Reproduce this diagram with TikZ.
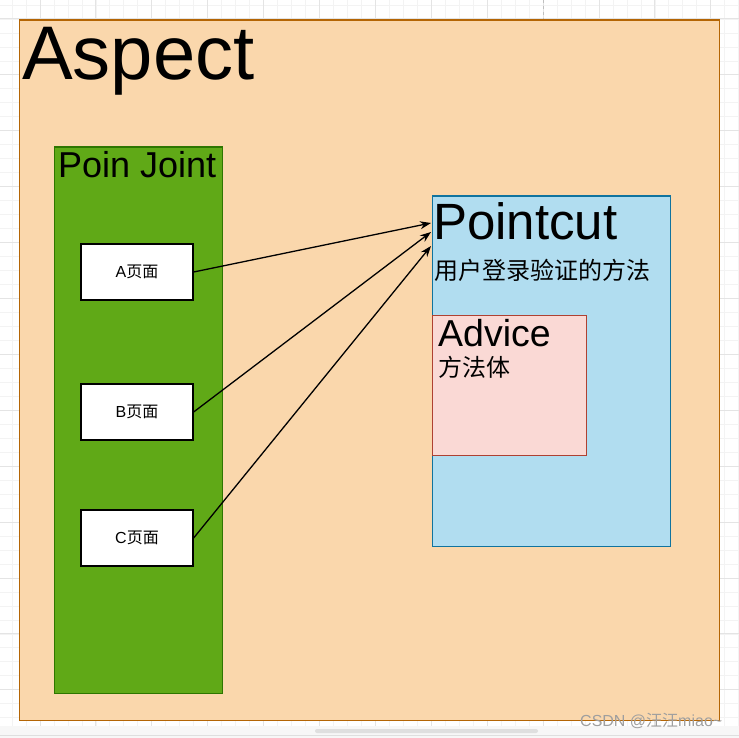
\documentclass[tikz,border=0pt]{standalone}
\usepackage{fontspec}
\setmainfont{Liberation Sans}
\newfontfamily\cjk{Noto Sans CJK SC}
\usetikzlibrary{arrows.meta,positioning}
\definecolor{aspectFill}{HTML}{FAD7AC}
\definecolor{aspectLine}{HTML}{B46504}
\definecolor{jointFill}{HTML}{60A917}
\definecolor{jointLine}{HTML}{2D7600}
\definecolor{cutFill}{HTML}{B1DDF0}
\definecolor{cutLine}{HTML}{10739E}
\definecolor{adviceFill}{HTML}{FAD9D5}
\definecolor{adviceLine}{HTML}{AE4132}
\definecolor{gridMajor}{HTML}{E4E4E4}
\definecolor{gridMinor}{HTML}{F3F3F3}

\begin{document}
\begin{tikzpicture}[
    x=1pt, y=-1pt,
    frame/.style={draw, line width=1.6pt, inner sep=0pt, anchor=north west},
    page/.style={draw, fill=white, line width=1.3pt, minimum width=112pt, minimum height=56pt, inner sep=0pt, font=\fontsize{16}{16}\selectfont},
    title/.style={anchor=base west, inner sep=0pt},
    arrow/.style={-{Stealth[length=11pt,width=8pt]}, line width=1.3pt}
  ]
    \useasboundingbox (0,0) rectangle (739,738);
    \fill[white] (0,0) rectangle (739,738);
    % canvas grid
    \foreach \k in {-3,...,53} {
      \draw[gridMinor, line width=0.8pt] ({40+13.975*\k},0) -- ({40+13.975*\k},726);
      \draw[gridMinor, line width=0.8pt] (0,{19+13.975*\k}) -- (739,{19+13.975*\k});
    }
    \foreach \k in {-1,...,13} {
      \draw[gridMajor, line width=1pt] ({40+55.9*\k},0) -- ({40+55.9*\k},726);
      \draw[gridMajor, line width=1pt] (0,{19+55.9*\k}) -- (739,{19+55.9*\k});
    }
    \draw[gray!50, dashed, line width=1pt] (543,0) -- (543,19);
    \fill[white!97!black] (0,726) rectangle (739,738);
    \fill[gray!25, rounded corners=2pt] (315,729) rectangle (538,733);
    \draw[gray!25] (0,735.5) -- (739,735.5);

    \node[frame, fill=aspectFill, draw=aspectLine, minimum width=700pt, minimum height=700pt] (aspect) at (18.5,19.5) {};
    \node[title, font=\fontsize{76}{76}\selectfont] (aspectLbl) at (22,80) {Aspect};

    \node[frame, fill=jointFill, draw=jointLine, minimum width=168pt, minimum height=546pt] (joint) at (53.5,146.5) {};
    \node[title, font=\fontsize{36}{36}\selectfont] (jointLbl) at (58,178) {Poin Joint};
    \node[page] (pageA) at (137,272) {A{\cjk 页面}};
    \node[page] (pageB) at (137,412) {B{\cjk 页面}};
    \node[page] (pageC) at (137,538) {C{\cjk 页面}};

    \node[frame, fill=cutFill, draw=cutLine, minimum width=238pt, minimum height=350pt] (pointcut) at (431.5,195.5) {};
    \node[title, font=\fontsize{51}{51}\selectfont] (cutLbl) at (433,240) {Pointcut};
    \node[title, font=\cjk\fontsize{24}{24}\selectfont] (cutTxt) at (434,279) {用户登录验证的方法};

    \node[frame, fill=adviceFill, draw=adviceLine, minimum width=154pt, minimum height=140pt] (advice) at (431.5,314.5) {};
    \node[title, font=\fontsize{37.5}{37.5}\selectfont] (adviceLbl) at (438,346) {Advice};
    \node[title, font=\cjk\fontsize{24}{24}\selectfont] (adviceTxt) at (438,376) {方法体};

    \coordinate (tipA) at (431,223);
    \coordinate (tipB) at (431,232);
    \coordinate (tipC) at (431,246);
    \draw[arrow] (pageA.east) -- (tipA);
    \draw[arrow] (pageB.east) -- (tipB);
    \draw[arrow] (pageC.east) -- (tipC);

    \node[title, text=gray!75, font=\fontsize{16}{16}\selectfont] (mark) at (580,726) {CSDN @{\cjk 汪汪}miao\char"007E};
  \end{tikzpicture}
\end{document}
